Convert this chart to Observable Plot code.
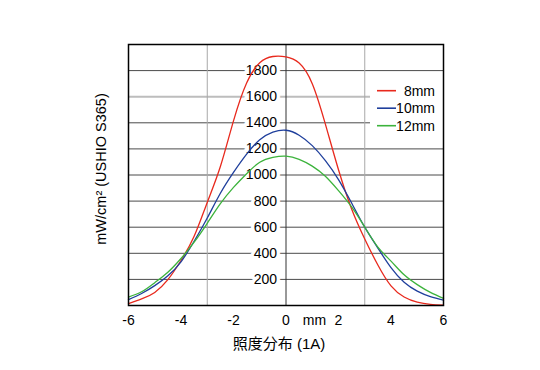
<!DOCTYPE html>
<html><head><meta charset="utf-8">
<script src="https://cdn.jsdelivr.net/npm/d3@7"></script>
<script src="https://cdn.jsdelivr.net/npm/@observablehq/plot@0.6"></script>
<style>body{margin:0;background:#fff}</style>
</head><body><div id="chart"></div>
<script>
const xs    = [-6,-5.5,-5,-4.5,-4,-3.5,-3,-2.5,-2,-1.5,-1,-0.5,0,0.5,1,1.5,2,2.5,3,3.5,4,4.5,5,5.5,6];
const red   = [15,50,100,198,345,530,790,1065,1415,1705,1860,1908,1905,1858,1700,1390,1040,740,510,310,150,65,25,8,2];
const blue  = [45,92,152,228,335,492,670,860,1020,1160,1270,1328,1343,1305,1225,1110,965,785,600,440,290,178,110,68,42];
const green = [65,105,175,255,360,485,630,780,905,1010,1098,1135,1144,1120,1068,990,880,755,600,448,340,235,160,100,55];
const series = ["8mm","10mm","12mm"];
const colors = ["#e8291d","#1f3f9c","#3cb33c"];
const yTicks = [200,400,600,800,1000,1200,1400,1600,1800];
const xTicks = [-6,-4,-2,0,2,4,6];
const xGrid = [-3,3];
const xTitle = "照度分布 (1A)";
const yTitle = "mW/cm² (USHIO S365)";
const xUnit = "mm";

const rows = [];
[red, blue, green].forEach((arr, i) => arr.forEach((v, j) => rows.push({x: xs[j], y: v, s: series[i]})));

const legendMark = (index, scales, values, dims) => {
  const g = d3.create("svg:g");
  const right = dims.width - dims.marginRight;
  const top = dims.marginTop;
  g.append("rect").attr("x", right - 73).attr("y", top + 34).attr("width", 75).attr("height", 58).attr("fill", "white");
  series.forEach((s, i) => {
    const y = top + 46.7 + i * 17.5;
    g.append("line").attr("x1", right - 66).attr("x2", right - 47).attr("y1", y).attr("y2", y)
      .attr("stroke", colors[i]).attr("stroke-width", 1.6);
    g.append("text").attr("x", right - 8).attr("y", y).attr("dy", "0.35em")
      .attr("text-anchor", "end").attr("fill", "black").text(s);
  });
  return g.node();
};

const chart = Plot.plot({
  width: 540, height: 370,
  marginLeft: 128, marginRight: 97, marginTop: 44, marginBottom: 65,
  style: {fontFamily: "'Liberation Sans', Arial, 'Noto Sans CJK JP', sans-serif", fontSize: "14px", background: "white", color: "black"},
  x: {domain: [-6, 6]},
  y: {domain: [0, 2000], axis: null},
  color: {domain: series, range: colors},
  marks: [
    Plot.ruleY(yTicks.filter(v => v !== 1600), {stroke: "#4a4a4a", strokeWidth: 1}),
    Plot.ruleY([1600], {stroke: "#bdbdbd", strokeWidth: 2}),
    Plot.ruleX(xGrid, {stroke: "#a8a8a8", strokeWidth: 1}),
    Plot.ruleX([0], {stroke: "#333", strokeWidth: 1}),
    Plot.text(yTicks, {x: 0, y: d => d, text: d => String(d), dx: -9, textAnchor: "end",
      stroke: "white", strokeWidth: 7, fill: "black", fontSize: 14}),
    Plot.line(rows, {x: "x", y: "y", z: "s", stroke: "s", curve: "natural", strokeWidth: 1.3}),
    Plot.axisX({ticks: xTicks, tickSize: 0, tickPadding: 10, label: null, tickFormat: d => String(d), fontSize: 14}),
    Plot.text([xUnit], {x: 2, frameAnchor: "bottom", lineAnchor: "middle", dy: 15, dx: -24, text: d => d, fontSize: 14}),
    Plot.text([xTitle], {frameAnchor: "bottom", lineAnchor: "middle", dy: 39, dx: -7, text: d => d, fontSize: 15}),
    Plot.text([yTitle], {frameAnchor: "left", textAnchor: "middle", lineAnchor: "middle", rotate: -90, dx: -27, dy: -6, text: d => d, fontSize: 14.5}),
    legendMark,
    Plot.frame({stroke: "black", strokeWidth: 1.5})
  ]
});
document.getElementById("chart").append(chart);
</script>
</body></html>
